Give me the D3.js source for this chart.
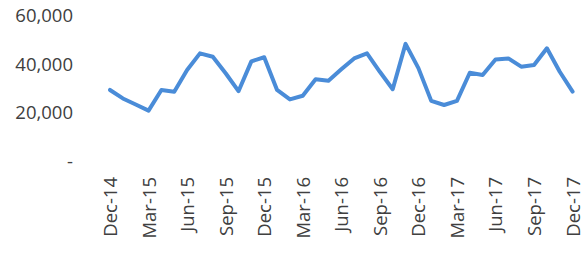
<!DOCTYPE html>
<html>
<head>
<meta charset="utf-8">
<script src="https://cdn.jsdelivr.net/npm/d3@7"></script>
<style>
  html, body { margin: 0; padding: 0; background: #fff; }
  svg { display: block; }
  text { font-family: "Open Sans", sans-serif; fill: #404040; }
</style>
</head>
<body>
<svg id="chart" width="585" height="260"></svg>
<script>
const months = [
  "Dec-14","Jan-15","Feb-15","Mar-15","Apr-15","May-15","Jun-15","Jul-15","Aug-15","Sep-15","Oct-15","Nov-15",
  "Dec-15","Jan-16","Feb-16","Mar-16","Apr-16","May-16","Jun-16","Jul-16","Aug-16","Sep-16","Oct-16","Nov-16",
  "Dec-16","Jan-17","Feb-17","Mar-17","Apr-17","May-17","Jun-17","Jul-17","Aug-17","Sep-17","Oct-17","Nov-17",
  "Dec-17"
];
const values = [
  29500, 26000, 23500, 21000, 29500, 28800, 37700, 44600, 43200, 36400, 29000, 41300,
  43000, 29500, 25600, 27100, 33900, 33300, 38000, 42500, 44600, 37000, 29800, 48500,
  38500, 25000, 23300, 25000, 36600, 35700, 42100, 42500, 39100, 39800, 46700, 37000,
  28800
];
const tickLabels = ["Dec-14","Mar-15","Jun-15","Sep-15","Dec-15","Mar-16","Jun-16","Sep-16","Dec-16","Mar-17","Jun-17","Sep-17","Dec-17"];
const yTicks = [0, 20000, 40000, 60000];

const svg = d3.select("#chart");

const x = d3.scalePoint().domain(months).range([110, 572.6]);
const y = d3.scaleLinear().domain([0, 60000]).range([161.5, 16]);

const fmt = v => v === 0 ? "-" : d3.format(",")(v);

// Y axis (labels only)
const yAxis = d3.axisLeft(y).tickValues(yTicks).tickFormat(fmt).tickSize(0).tickPadding(0);
const gy = svg.append("g").attr("transform", "translate(73,0)").call(yAxis);
gy.select(".domain").remove();
gy.selectAll("text")
  .style("font-family", '"Open Sans", sans-serif')
  .style("font-size", "18.5px")
  .attr("fill", "#404040");

// X axis (rotated labels only)
const xAxis = d3.axisBottom(x).tickValues(tickLabels).tickSize(0).tickPadding(0);
const gx = svg.append("g").attr("transform", "translate(0,177)").call(xAxis);
gx.select(".domain").remove();
gx.selectAll("text")
  .style("font-family", '"Open Sans", sans-serif')
  .style("font-size", "18.5px")
  .attr("fill", "#404040")
  .attr("transform", "rotate(-90)")
  .attr("text-anchor", "end")
  .attr("x", 0)
  .attr("y", 0)
  .attr("dy", "0.35em");

// Line
const line = d3.line()
  .x((d, i) => x(months[i]))
  .y(d => y(d));

svg.append("path")
  .datum(values)
  .attr("fill", "none")
  .attr("stroke", "#4A8CD8")
  .attr("stroke-width", 4)
  .attr("stroke-linejoin", "round")
  .attr("stroke-linecap", "round")
  .attr("d", line);
</script>
</body>
</html>
